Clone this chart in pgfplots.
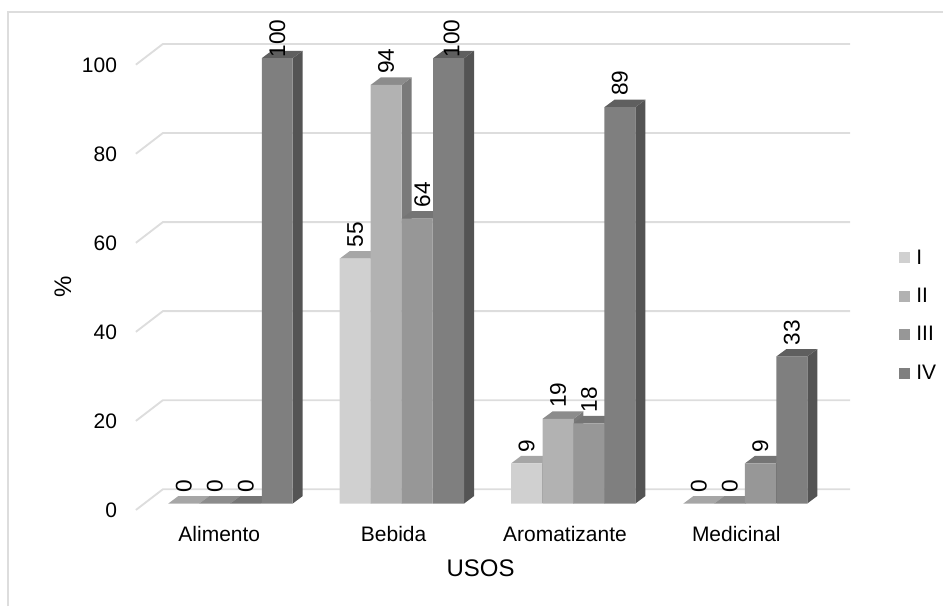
\documentclass[border=0pt]{standalone}
\usepackage{pgfplots}
\usepackage{pgfplotstable}
\usepackage{fontspec}
\setmainfont{Liberation Sans}
\pgfplotsset{compat=1.18}

% series shades: front, top and side of each bar
\definecolor{frontI}{HTML}{D0D0D0}
\definecolor{frontII}{HTML}{B2B2B2}
\definecolor{frontIII}{HTML}{979797}
\definecolor{frontIV}{HTML}{7F7F7F}
\definecolor{topI}{HTML}{A6A6A6}
\definecolor{topII}{HTML}{8C8C8C}
\definecolor{topIII}{HTML}{757575}
\definecolor{topIV}{HTML}{5F5F5F}
\definecolor{sideI}{HTML}{9C9C9C}
\definecolor{sideII}{HTML}{7A7A7A}
\definecolor{sideIII}{HTML}{686868}
\definecolor{sideIV}{HTML}{545454}
\definecolor{wall}{HTML}{DDDDDD}

\newcommand{\chartfont}{\fontsize{15.75}{18}\selectfont}
\newcommand{\labelfont}{\fontsize{17}{19}\selectfont}
\newcommand{\titlefont}{\fontsize{18}{20}\selectfont}

% x = bar centre, y = percentage, dx and dy = label offsets in pt
\pgfplotstableread{
x      y    dx    dy
184    0    0     8.3
355.5  55   0     8.3
527    9    0     8.3
699.5  0    0     8.3
}\seriesI
\pgfplotstableread{
x      y    dx    dy
215    0    0     8.3
386.5  94   0     8.3
558.5  19   0     8.3
730.5  0    0     8.3
}\seriesII
\pgfplotstableread{
x      y    dx    dy
246    0    0     8.3
417.5  64   4     8.3
589.5  18   0     8.3
761    9    0     8.3
}\seriesIII
\pgfplotstableread{
x      y    dx    dy
277.5  100  0     0.3
449    100  2.2   0.3
620.5  89   0     8.3
792.5  33   0     8.3
}\seriesIV

% depth of the extrusion: 10 units across, 1.68 percentage points up
\newcommand{\barwidth}{31}
\newcommand{\depthx}{10}
\newcommand{\depthy}{1.68}

% side and top faces of every bar of one series
\newcommand{\backfaces}[3]{%
  \pgfplotsforeachungrouped \r in {0,1,2,3}{%
    \pgfplotstablegetelem{\r}{x}\of#1\let\bx\pgfplotsretval
    \pgfplotstablegetelem{\r}{y}\of#1\let\bv\pgfplotsretval
    \pgfmathsetmacro\xl{\bx-\barwidth/2}%
    \pgfmathsetmacro\xr{\bx+\barwidth/2}%
    \pgfmathsetmacro\xrd{\xr+\depthx}%
    \pgfmathsetmacro\xld{\xl+\depthx}%
    \pgfmathsetmacro\vd{\bv+\depthy}%
    \edef\temp{\noexpand\addplot[forget plot,draw=none,fill=#3] coordinates
      {(\xr,0) (\xrd,\depthy) (\xrd,\vd) (\xr,\bv)};}\temp
    \edef\temp{\noexpand\addplot[forget plot,draw=none,fill=#2] coordinates
      {(\xl,\bv) (\xr,\bv) (\xrd,\vd) (\xld,\vd)};}\temp
  }%
}

\pgfplotsset{
  value labels/.style={forget plot,draw=none,no markers,
    visualization depends on=\thisrow{dx} \as \dx,
    visualization depends on=\thisrow{dy} \as \dy,
    point meta=y,
    nodes near coords,
    every node near coord/.append style={font=\labelfont, inner sep=0pt, anchor=west,
      xshift=\dx pt, yshift=\dy pt, rotate=90}},
  front face/.style={forget plot,ybar,bar width=31,bar shift=0pt,draw=none,fill=#1},
}

\begin{document}
\begin{tikzpicture}
\begin{axis}[
  /pgf/number format/assume math mode=true,
  scale only axis,
  width=536.25pt, height=334.275pt,
  xmin=136, xmax=851, ymin=0, ymax=100,
  clip=false,
  axis line style={draw=none},
  tick style={draw=none},
  major tick length=0pt,
  xtick={219.5,394,565.5,737},
  xticklabels={Alimento,Bebida,Aromatizante,Medicinal},
  ytick={0,20,40,60,80,100},
  x tick label style={font=\chartfont, inner sep=0pt, anchor=north, yshift=-17.25pt},
  y tick label style={font=\chartfont, inner sep=0pt, anchor=east, xshift=-14pt, yshift=-5pt},
  xlabel={USOS},
  ylabel={\%},
  xlabel style={font=\titlefont, at={(axis cs:481,-14.47)}, anchor=center},
  ylabel style={font=\titlefont, at={(axis cs:63,48.7)}, anchor=center},
  legend style={draw=none, fill=none, font=\chartfont,
    at={(axis cs:900,57.6)}, anchor=north west, inner sep=0pt, outer sep=0pt,
    cells={anchor=west}, row sep=12.5pt},
  legend image code/.code={\fill[draw=none,#1] (0pt,-4.1pt) rectangle (8.25pt,4.15pt);},
]
% page extent and chart frame
\path (axis cs:0,-23.11) rectangle (axis cs:944,113.08);
\draw[wall, line width=1.3pt] (axis cs:8,-23.11) -- (axis cs:8,110.46) -- (axis cs:944,110.46);

% floor-to-wall gridlines
\pgfplotsinvokeforeach{0,20,40,60,80,100}{
  \pgfmathsetmacro\gf{#1-1.45}
  \pgfmathsetmacro\gb{#1+3.2}
  \edef\temp{\noexpand\addplot[forget plot,wall,line width=1.4pt,no markers] coordinates
    {(136,\gf) (163,\gb) (851,\gb)};}\temp
}

% value labels sit under the bars, so the top faces may cover them
\addplot[value labels] table[x=x,y=y] {\seriesI};
\addplot[value labels] table[x=x,y=y] {\seriesII};
\addplot[value labels] table[x=x,y=y] {\seriesIII};
\addplot[value labels] table[x=x,y=y] {\seriesIV};

% side and top faces
\backfaces{\seriesI}{topI}{sideI}
\backfaces{\seriesII}{topII}{sideII}
\backfaces{\seriesIII}{topIII}{sideIII}
\backfaces{\seriesIV}{topIV}{sideIV}

% front faces
\addplot[front face=frontI] table[x=x,y=y] {\seriesI};
\addplot[front face=frontII] table[x=x,y=y] {\seriesII};
\addplot[front face=frontIII] table[x=x,y=y] {\seriesIII};
\addplot[front face=frontIV] table[x=x,y=y] {\seriesIV};

\addlegendimage{fill=frontI}\addlegendentry{\,I}
\addlegendimage{fill=frontII}\addlegendentry{\,II}
\addlegendimage{fill=frontIII}\addlegendentry{\,III}
\addlegendimage{fill=frontIV}\addlegendentry{\,IV}
\end{axis}
\end{tikzpicture}
\end{document}
